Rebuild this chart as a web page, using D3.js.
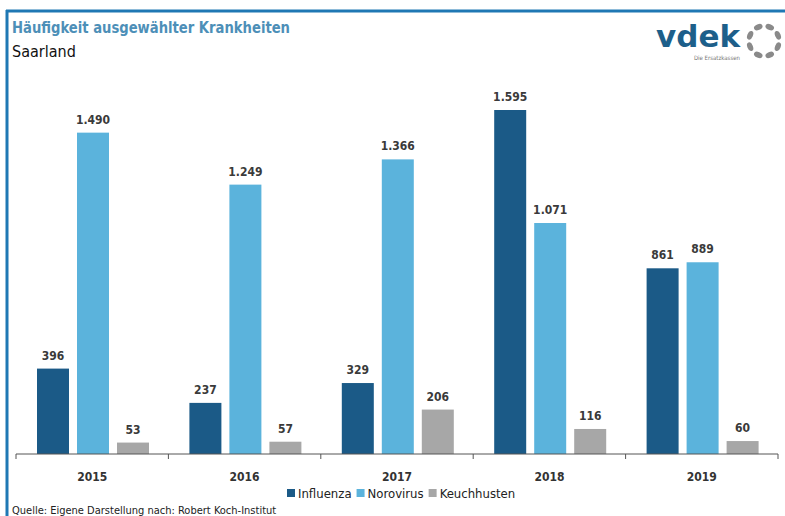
<!DOCTYPE html>
<html>
<head>
<meta charset="utf-8">
<script src="https://cdn.jsdelivr.net/npm/d3@7"></script>
<style>
body { margin: 0; background: #fff; }
text { font-family: "DejaVu Sans Condensed", "DejaVu Sans", sans-serif; }
.val { font-size: 12px; font-weight: bold; fill: #3a3a3a; }
.year { font-size: 12px; font-weight: bold; fill: #333; }
.legend { font-size: 13px; fill: #222; }
</style>
</head>
<body>
<script>
// data
var years = ["2015", "2016", "2017", "2018", "2019"];
var seriesNames = ["Influenza", "Norovirus", "Keuchhusten"];
var influenza = [396, 237, 329, 1595, 861];
var norovirus = [1490, 1249, 1366, 1071, 889];
var keuchhusten = [53, 57, 206, 116, 60];
var colors = ["#1b5a87", "#5bb3dc", "#a7a7a7"];

var width = 785, height = 516;
var svg = d3.select("body").append("svg")
    .attr("width", width)
    .attr("height", height);

// frame
svg.append("rect").attr("x", 0).attr("y", 0).attr("width", width).attr("height", height).attr("fill", "#fff");
svg.append("line").attr("x1", 6).attr("x2", width).attr("y1", 11).attr("y2", 11)
    .attr("stroke", "#1f78b4").attr("stroke-width", 3);
svg.append("line").attr("x1", 7).attr("x2", 7).attr("y1", 10).attr("y2", height)
    .attr("stroke", "#1f78b4").attr("stroke-width", 3);

// titles
svg.append("text").attr("x", 12).attr("y", 33)
    .style("font-size", "15px").style("font-weight", "bold").attr("fill", "#4d8fb8")
    .attr("textLength", 278).attr("lengthAdjust", "spacingAndGlyphs")
    .text("Häufigkeit ausgewählter Krankheiten");
svg.append("text").attr("x", 12).attr("y", 57)
    .style("font-size", "16px").attr("fill", "#111")
    .text("Saarland");

// logo
svg.append("text").attr("x", 656).attr("y", 47)
    .style("font-size", "30px").style("font-weight", "bold").attr("fill", "#1d5f8a")
    .style("font-family", "'DejaVu Sans', sans-serif")
    .attr("textLength", 84).attr("lengthAdjust", "spacingAndGlyphs")
    .text("vdek");
svg.append("text").attr("x", 740).attr("y", 60).attr("text-anchor", "end")
    .style("font-size", "6px").attr("fill", "#777")
    .text("Die Ersatzkassen");
var ring = svg.append("g").attr("transform", "translate(764,41)");
d3.range(8).forEach(function(i) {
  var a = i * Math.PI / 4 + Math.PI / 8;
  var cx = 15 * Math.cos(a), cy = 15 * Math.sin(a);
  ring.append("ellipse")
    .attr("cx", cx).attr("cy", cy)
    .attr("rx", 4.5).attr("ry", 2.8)
    .attr("transform", "rotate(" + (i * 45 + 22.5 + 90) + "," + cx + "," + cy + ")")
    .attr("fill", "#8a8a8a");
});

// scales
var x0 = d3.scaleBand().domain(years).range([16, 778]);
var x1 = d3.scaleBand().domain(seriesNames).range([21, 133]).paddingInner(0.2);
var y = d3.scaleLinear().domain([0, 1595]).range([454, 110]);

var rows = years.map(function(yr, i) {
  return { year: yr, values: [influenza[i], norovirus[i], keuchhusten[i]] };
});

var groups = svg.append("g").selectAll("g")
  .data(rows).enter().append("g")
    .attr("transform", function(d) { return "translate(" + x0(d.year) + ",0)"; });

groups.selectAll("rect")
  .data(function(d) { return d.values.map(function(v, j) { return { k: seriesNames[j], v: v, c: colors[j] }; }); })
  .enter().append("rect")
    .attr("x", function(d) { return x1(d.k); })
    .attr("width", x1.bandwidth())
    .attr("y", function(d) { return y(d.v); })
    .attr("height", function(d) { return y(0) - y(d.v); })
    .attr("fill", function(d) { return d.c; });

var fmt = d3.formatLocale({ decimal: ",", thousands: ".", grouping: [3], currency: ["", "€"] }).format(",d");
groups.selectAll("text.val")
  .data(function(d) { return d.values.map(function(v, j) { return { k: seriesNames[j], v: v }; }); })
  .enter().append("text")
    .attr("class", "val")
    .attr("text-anchor", "middle")
    .attr("x", function(d) { return x1(d.k) + x1.bandwidth() / 2; })
    .attr("y", function(d) { return y(d.v) - 9; })
    .text(function(d) { return fmt(d.v); });

// x axis
var axis = svg.append("g").attr("transform", "translate(0,454)");
axis.append("line").attr("x1", 16).attr("x2", 778).attr("y1", 0).attr("y2", 0)
    .attr("stroke", "#555").attr("stroke-width", 1);
var tickPos = years.map(function(yr) { return x0(yr); }).concat([x0.range()[1]]);
axis.selectAll("line.tick").data(tickPos).enter().append("line")
    .attr("x1", function(d) { return d; }).attr("x2", function(d) { return d; })
    .attr("y1", 0).attr("y2", 5).attr("stroke", "#555");
axis.selectAll("text").data(years).enter().append("text")
    .attr("class", "year")
    .attr("text-anchor", "middle")
    .attr("x", function(d) { return x0(d) + x0.bandwidth() / 2; })
    .attr("y", 27)
    .text(function(d) { return d; });

// legend, items laid out one after another
var lx = 287;
seriesNames.forEach(function(name, i) {
  var g = svg.append("g").attr("transform", "translate(" + lx + ",489)");
  g.append("rect").attr("width", 8).attr("height", 8).attr("fill", colors[i]);
  var t = g.append("text").attr("class", "legend").attr("x", 11).attr("y", 9).text(name);
  lx += 11 + t.node().getComputedTextLength() + 5;
});

// source
svg.append("text").attr("x", 12).attr("y", 514)
    .style("font-size", "11px").attr("fill", "#222")
    .text("Quelle: Eigene Darstellung nach: Robert Koch-Institut");
</script>
</body>
</html>
